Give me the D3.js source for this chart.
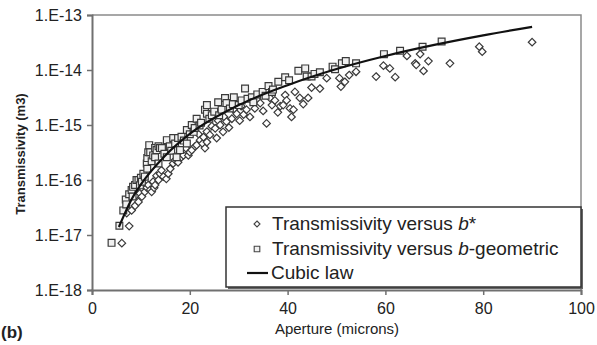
<!DOCTYPE html>
<meta charset="utf-8">
<script src="https://d3js.org/d3.v7.min.js"></script>
<style>
  body { margin: 0; background: #fff; }
  text { font-family: 'Liberation Sans', Arial, sans-serif; fill: #222; }
</style>
<body>
<div id="chart"></div>
<script>

// ---- data ----
// Transmissivity versus b* (diamonds)
var starAperture = [6.1, 7.6, 7.1, 8.1, 8.8, 9.5, 9.0, 9.1, 9.8, 10.2, 10.5, 10.8, 11.2, 11.5, 11.9, 12.2, 12.5, 12.7, 12.9,
  13.2, 13.6, 13.9, 14.2, 14.6, 15.2, 15.6, 16.0, 16.6, 17.0, 17.6, 17.8, 18.3, 18.7, 19.2, 19.7, 20.0, 20.4, 21.1, 21.4,
  21.8, 22.1, 22.6, 22.8, 23.1, 23.5, 23.5, 24.1, 24.5, 25.2, 25.5, 25.8, 26.2, 26.8, 27.0, 27.5, 28.0, 28.6, 29.0, 29.6,
  30.2, 30.5, 31.0, 31.6, 32.3, 33.3, 33.8, 34.4, 35.0, 35.7, 36.4, 36.8, 37.4, 38.0, 38.5, 39.1, 39.5, 39.8, 40.5, 40.8,
  41.2, 41.5, 42.5, 43.2, 44.2, 44.9, 46.6, 48.0, 50.6, 50.9, 51.7, 52.6, 54.0, 58.1, 59.6, 60.9, 62.0, 64.4, 66.1, 66.3,
  67.1, 67.8, 68.8, 73.2, 79.2, 79.8, 90.0];
var starTrans = [7.1e-18, 1.45e-17, 2.5e-17, 2.8e-17, 3.4e-17, 4.0e-17, 5.3e-17, 7.0e-17, 5.7e-17, 5.0e-17, 8.5e-17, 6.1e-17, 7.3e-17, 8.1e-17, 6.6e-17, 6.1e-17, 9.3e-17, 7.2e-17, 8.1e-17,
  1.2e-16, 1.0e-16, 1.3e-16, 1.5e-16, 1.15e-16, 1.05e-16, 1.3e-16, 1.6e-16, 2.0e-16, 2.3e-16, 2.1e-16, 3.0e-16, 2.6e-16, 2.8e-16, 3.8e-16, 2.8e-16, 3.2e-16, 3.5e-16, 4.1e-16, 4.3e-16,
  6.8e-16, 5.3e-16, 4.6e-16, 6.0e-16, 3.8e-16, 4.9e-16, 7.6e-16, 6.6e-16, 9.5e-16, 8.7e-16, 5.8e-16, 1.2e-15, 1.0e-15, 7.5e-16, 1.4e-15, 1.15e-15, 9.0e-16, 1.3e-15, 1.9e-15, 1.6e-15,
  1.2e-15, 2.2e-15, 1.55e-15, 1.9e-15, 1.4e-15, 2.0e-15, 2.9e-15, 2.5e-15, 1.8e-15, 1.07e-15, 3.1e-15, 2.3e-15, 2.8e-15, 1.7e-15, 2.2e-15, 2.3e-15, 3.5e-15, 2.8e-15, 2.0e-15, 1.4e-15,
  1.9e-15, 4.0e-15, 3.1e-15, 2.4e-15, 3.1e-15, 4.8e-15, 4.6e-15, 7.1e-15, 7.1e-15, 5.0e-15, 6.1e-15, 8.1e-15, 9.3e-15, 7.6e-15, 1.2e-14, 1.07e-14, 7.4e-15, 1.8e-14, 1.32e-14, 1.24e-14,
  1.95e-14, 9.6e-15, 1.45e-14, 1.32e-14, 2.65e-14, 2.15e-14, 3.2e-14];

// Transmissivity versus b-geometric (squares)
var geoAperture = [4.0, 5.6, 6.4, 6.9, 7.0, 7.6, 8.1, 8.3, 8.4, 8.8, 9.1, 9.5, 9.8, 10.0, 10.2, 10.5, 10.8, 11.2, 11.3, 11.3,
  11.5, 11.7, 11.9, 12.2, 12.5, 12.9, 12.9, 13.2, 13.6, 13.6, 13.9, 14.3, 14.8, 15.3, 15.3, 15.9, 16.2, 16.6, 17.0, 17.3,
  17.6, 18.0, 18.3, 18.8, 19.4, 19.4, 20.0, 20.4, 20.8, 21.0, 21.4, 22.0, 22.3, 23.1, 23.5, 23.5, 24.0, 24.5, 25.0, 25.8,
  26.0, 26.5, 27.2, 27.5, 28.2, 28.8, 29.0, 30.0, 30.6, 31.3, 31.8, 32.7, 33.0, 33.8, 34.9, 35.5, 36.1, 36.8, 37.0, 38.1,
  39.5, 40.3, 42.2, 43.6, 43.9, 44.9, 45.5, 46.6, 49.2, 49.7, 51.1, 51.9, 54.0, 59.7, 63.0, 67.6, 71.5];
var geoTrans = [7.2e-18, 1.47e-17, 2.8e-17, 4.4e-17, 3.6e-17, 5.5e-17, 6.6e-17, 5.0e-17, 7.5e-17, 8.1e-17, 1.0e-16, 1.0e-16, 8.0e-17, 1.1e-16, 9.3e-17, 1.3e-16, 1.15e-16, 2.0e-16, 1.6e-16, 2.5e-16,
  3.2e-16, 4.3e-16, 3.2e-16, 2.2e-16, 2.8e-16, 3.8e-16, 2.6e-16, 3.5e-16, 2.0e-16, 4.1e-16, 3.8e-16, 3.8e-16, 3.0e-16, 2.6e-16, 5.3e-16, 4.1e-16, 3.4e-16, 5.8e-16, 4.6e-16, 2.6e-16,
  5.8e-16, 3.5e-16, 6.1e-16, 5.2e-16, 4.6e-16, 8.1e-16, 6.8e-16, 1.0e-15, 7.5e-16, 8.8e-16, 1.3e-15, 9.8e-16, 1.1e-15, 1.9e-15, 2.3e-15, 1.6e-15, 1.3e-15, 1.5e-15, 1.75e-15, 2.6e-15,
  1.5e-15, 1.9e-15, 3.1e-15, 2.5e-15, 2.0e-15, 2.4e-15, 3.2e-15, 2.3e-15, 2.8e-15, 4.6e-15, 3.0e-15, 3.2e-15, 2.6e-15, 3.6e-15, 4.0e-15, 3.4e-15, 5.1e-15, 4.0e-15, 4.4e-15, 6.1e-15,
  7.4e-15, 6.5e-15, 9.7e-15, 1.07e-14, 7.6e-15, 7.6e-15, 8.5e-15, 9.1e-15, 1.15e-14, 1.03e-14, 1.32e-14, 1.45e-14, 1.32e-14, 1.94e-14, 2.24e-14, 2.65e-14, 3.3e-14];

// Cubic law line
var cubicAperture = [5.5, 8, 10, 15, 20, 30, 40, 50, 60, 70, 80, 90];
var cubicTrans = [1.4e-17, 4.3e-17, 8.3e-17, 2.8e-16, 6.9e-16, 2.3e-15, 5.3e-15, 1.04e-14, 1.8e-14, 2.86e-14, 4.27e-14, 6.1e-14];

// axes
var xTicks = [0, 20, 40, 60, 80, 100];
var yTicks = [1e-18, 1e-17, 1e-16, 1e-15, 1e-14, 1e-13];
var yTickLabels = ["1.E-18", "1.E-17", "1.E-16", "1.E-15", "1.E-14", "1.E-13"];

// ---- layout ----
var W = 597, H = 345;
var plot = {left: 92, right: 581, top: 15, bottom: 290};

var svg = d3.select("#chart").append("svg")
  .attr("width", W)
  .attr("height", H);

var x = d3.scaleLinear().domain([0, 100]).range([plot.left, plot.right]);
var y = d3.scaleLog().domain([1e-18, 1e-13]).range([plot.bottom, plot.top]);

// plot frame (top and right)
svg.append("path")
  .attr("d", "M" + plot.left + "," + plot.top + "H" + plot.right + "V" + plot.bottom)
  .attr("fill", "none")
  .attr("stroke", "#8a8a8a")
  .attr("stroke-width", 1.5);

// Y axis
var yAxis = svg.append("g")
  .attr("transform", "translate(" + plot.left + ",0)")
  .call(d3.axisLeft(y).tickValues(yTicks).tickSize(5).tickPadding(5)
    .tickFormat(function(d, i) { return yTickLabels[i]; }));

// X axis
var xAxis = svg.append("g")
  .attr("transform", "translate(0," + plot.bottom + ")")
  .call(d3.axisBottom(x).tickValues(xTicks).tickSize(5).tickPadding(8));

[xAxis, yAxis].forEach(function(a) {
  a.select(".domain").attr("stroke", "#707070").attr("stroke-width", 2);
  a.selectAll(".tick line").attr("stroke", "#707070").attr("stroke-width", 1.5);
  a.selectAll(".tick text")
    .style("font-family", "'Liberation Sans', Arial, sans-serif")
    .style("font-size", "16px")
    .attr("fill", "#333");
});

// axis titles
svg.append("text")
  .attr("x", 337).attr("y", 334)
  .attr("text-anchor", "middle")
  .style("font-size", "15px")
  .text("Aperture (microns)");

svg.append("text")
  .attr("transform", "translate(25,154) rotate(-90)")
  .attr("text-anchor", "middle")
  .style("font-size", "13px")
  .style("font-weight", "bold")
  .text("Transmissivity (m3)");

svg.append("text")
  .attr("x", 1).attr("y", 338)
  .style("font-size", "17px")
  .style("font-weight", "bold")
  .text("(b)");

// marker shapes
var diamond = "M0,-3.8L3.8,0L0,3.8L-3.8,0Z";
var square = "M-3.4,-3.4H3.4V3.4H-3.4Z";

// b* diamonds
svg.append("g").selectAll("path")
  .data(starAperture)
  .join("path")
    .attr("transform", function(d, i) { return "translate(" + x(d) + "," + y(starTrans[i]) + ")"; })
    .attr("d", diamond)
    .attr("fill", "#fff")
    .attr("stroke", "#3a3a3a")
    .attr("stroke-width", 1.2);

// b-geometric squares
svg.append("g").selectAll("path")
  .data(geoAperture)
  .join("path")
    .attr("transform", function(d, i) { return "translate(" + x(d) + "," + y(geoTrans[i]) + ")"; })
    .attr("d", square)
    .attr("fill", "#f0f0f0")
    .attr("stroke", "#3a3a3a")
    .attr("stroke-width", 1.2);

// cubic law
var line = d3.line()
  .x(function(d) { return x(d); })
  .y(function(d, i) { return y(cubicTrans[i]); })
  .curve(d3.curveMonotoneX);

svg.append("path")
  .datum(cubicAperture)
  .attr("d", line)
  .attr("fill", "none")
  .attr("stroke", "#111")
  .attr("stroke-width", 2.2);

// Legend
var lg = svg.append("g");
lg.append("rect")
  .attr("x", 228).attr("y", 209).attr("width", 355).attr("height", 80)
  .attr("fill", "#666");
lg.append("rect")
  .attr("x", 226).attr("y", 207).attr("width", 355).attr("height", 80)
  .attr("fill", "#fff")
  .attr("stroke", "#333")
  .attr("stroke-width", 1.5);

lg.append("path")
  .attr("transform", "translate(257,224)")
  .attr("d", "M0,-3L3,0L0,3L-3,0Z")
  .attr("fill", "#fff").attr("stroke", "#444").attr("stroke-width", 1.1);
lg.append("path")
  .attr("transform", "translate(257,249)")
  .attr("d", "M-2.8,-2.8H2.8V2.8H-2.8Z")
  .attr("fill", "#f0f0f0").attr("stroke", "#444").attr("stroke-width", 1.1);
lg.append("line")
  .attr("x1", 247).attr("x2", 268).attr("y1", 273).attr("y2", 273)
  .attr("stroke", "#111").attr("stroke-width", 2.2);

var t1 = lg.append("text").attr("x", 272).attr("y", 230).style("font-size", "19px");
t1.append("tspan").text("Transmissivity versus ");
t1.append("tspan").style("font-style", "italic").text("b");
t1.append("tspan").text("*");

var t2 = lg.append("text").attr("x", 272).attr("y", 255).style("font-size", "19px");
t2.append("tspan").text("Transmissivity versus ");
t2.append("tspan").style("font-style", "italic").text("b");
t2.append("tspan").text("-geometric");

lg.append("text").attr("x", 271).attr("y", 279).style("font-size", "19px").text("Cubic law");

</script>
</body>
